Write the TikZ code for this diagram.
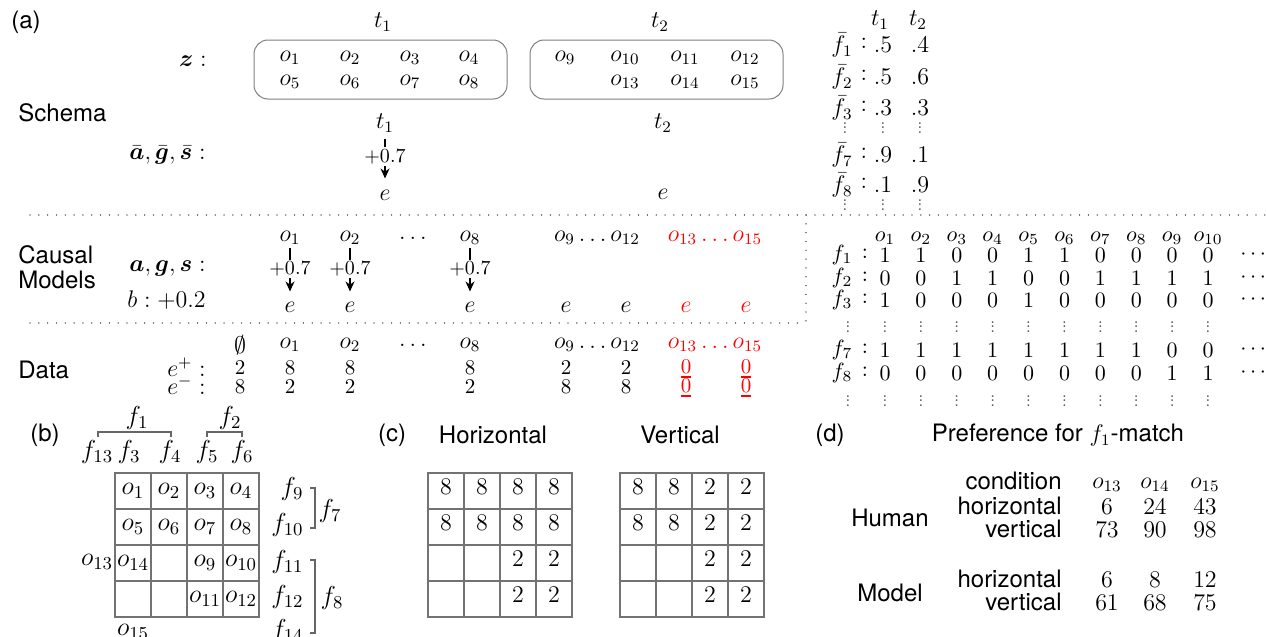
\RequirePackage{fix-cm}
\documentclass[tikz,border=0pt]{standalone}
\usepackage{amsmath}
\usepackage{bm}
\usepackage{fontspec}
\setsansfont{TeX Gyre Heros}
\usetikzlibrary{arrows.meta}
\newcommand{\redzero}{\makebox[0pt][l]{\rule[-2.2pt]{5.25pt}{0.85pt}}0}
\newcommand{\vdt}{\vbox{\baselineskip=2.3pt\lineskiplimit=0pt\hbox{.}\hbox{.}\hbox{.}}}
\begin{document}
\begin{tikzpicture}[x=0.5pt,y=-0.5pt,
  m/.style={inner sep=0pt, font=\fontsize{12}{14}\selectfont},
  md/.style={inner sep=0pt, font=\fontsize{10.5}{12}\selectfont},
  mb/.style={inner sep=0pt, font=\fontsize{13}{15}\selectfont},
  mx/.style={inner sep=0pt, font=\fontsize{11}{13}\selectfont},
  lab/.style={inner sep=0pt, font=\fontsize{12}{14}\selectfont\sffamily},
  wt/.style={inner sep=1pt, fill=white, font=\fontsize{10}{12}\selectfont},
  obox/.style={draw=black!50, line width=0.5pt, rounded corners=7pt, minimum width=126.5pt, minimum height=29.5pt, inner sep=0pt},
  dotline/.style={black!60, line width=0.7pt, dash pattern=on 0.01pt off 4.4pt, line cap=round},
  cellb/.style={draw=black!55, line width=0.6pt, minimum size=18pt, inner sep=0pt, font=\fontsize{13}{15}\selectfont},
  cellc/.style={draw=black!55, line width=0.6pt, minimum size=18pt, inner sep=0pt, font=\fontsize{12}{14}\selectfont},
  arr/.style={-{Stealth[length=5pt,width=4.5pt]}, line width=0.6pt},
  vd/.style={inner sep=0pt, font=\fontsize{8}{9}\selectfont, text=black!70},
  brk/.style={black!60, line width=0.6pt},
]
\useasboundingbox (0,0) rectangle (1266,637);

% ---------------- (a) Schema ----------------
\node[lab] (alab) at (26,22) {(a)};
\node[m] (t1top) at (383,22) {$t_1$};
\node[m] (t2top) at (660,22) {$t_2$};
\node[obox] (box1) at (380.5,69.5) {};
\node[obox] (box2) at (656.5,69.5) {};
\foreach \n/\x/\y in {1/290/58,2/350/58,3/410/58,4/469/58,5/290/82,6/350/82,7/410/82,8/469/82,
                      9/565/58,10/625/58,11/685/58,12/745/58,13/625/82,14/685/82,15/745/82}
  \node[m] (z\n) at (\x,\y) {$o_{\n}$};
\node[m, anchor=east] (zlab) at (207,61) {$\bm{z}:$};
\node[lab, anchor=west] (schema) at (18,113) {Schema};
\node[m] (t1b) at (385,123) {$t_1$};
\node[m] (e1a) at (385,195) {$e$};
\draw[arr, shorten <=3pt, shorten >=5.5pt] (t1b) -- node[wt, pos=0.42] {$+0.7$} (e1a);
\node[m] (t2b) at (663,123) {$t_2$};
\node[m] (e2a) at (663,194) {$e$};
\node[m, anchor=east] (agsbar) at (206,155) {$\bar{\bm a},\bar{\bm g},\bar{\bm s}:$};

% f-bar table
\node[m] (fbt1) at (880,20) {$t_1$};
\node[m] (fbt2) at (918,20) {$t_2$};
\foreach \i/\y/\p/\q in {1/45/.5/.4,2/77/.5/.6,3/108/.3/.3,7/155/.9/.1,8/185/.1/.9}{
  \node[m] (fb\i) at (842,\y) {$\bar f_{\i}$};
  \node[m] (fbc\i) at (864,\y-2) {$:$};
  \node[m] (fbp\i) at (883,\y) {$\p$};
  \node[m] (fbq\i) at (920,\y) {$\q$};
}
\foreach \y in {128,205}
  \foreach \x in {845,883,920}
    \node[vd] at (\x,\y) {\vdt};

% dotted separators
\draw[dotline] (30,215) -- (1266,215);
\draw[dotline] (30,323) -- (806,323);
\draw[dotline] (806,215) -- (806,323);

% ---------------- Causal Models ----------------
\node[lab, anchor=west, align=left, font=\fontsize{12}{12.5}\selectfont\sffamily] (cmlab) at (18,267) {Causal\\Models};
\node[m, anchor=east] (ags) at (206,268) {$\bm a,\bm g,\bm s:$};
\node[m, anchor=east] (blab) at (206,300) {$b:+0.2$};
\node[m] (c1) at (290,238) {$o_1$};
\node[m] (c2) at (350,238) {$o_2$};
\node[m] (cdots) at (413,238) {$\ldots$};
\node[m] (c8) at (470,238) {$o_8$};
\node[m] (c912) at (597,238) {$o_9\ldots o_{12}$};
\node[m, text=red] (c1315) at (715,238) {$o_{13}\ldots o_{15}$};
\foreach \n/\x in {1/290,2/350,8/470,9/566,12/626}
  \node[m] (ce\n) at (\x,307) {$e$};
\node[m, text=red] (ce13) at (686,307) {$e$};
\node[m, text=red] (ce15) at (746,307) {$e$};
\foreach \n in {1,2,8}
  \draw[arr, shorten <=1.5pt, shorten >=5pt] (c\n) -- node[wt, pos=0.42] {$+0.7$} (ce\n);

% ---------------- Data ----------------
\node[lab, anchor=west] (datalab) at (18,370) {Data};
\node[m] (d0) at (240,345) {$\emptyset$};
\node[m] (d1) at (290,345) {$o_1$};
\node[m] (d2) at (350,345) {$o_2$};
\node[m] (ddots) at (413,345) {$\ldots$};
\node[m] (d8) at (470,345) {$o_8$};
\node[m] (d912) at (597,345) {$o_9\ldots o_{12}$};
\node[m, text=red] (d1315) at (715,345) {$o_{13}\ldots o_{15}$};
\node[m, anchor=east] (eplus) at (206,367) {$e^+:$};
\node[m, anchor=east] (eminus) at (206,385) {$e^-:$};
\foreach \v [count=\k] in {2,8,8,8,2,2}{
  \pgfmathsetmacro{\xx}{{240,290,350,470,566,626}[\k-1]}
  \node[md] (ep\k) at (\xx,368) {\v};
}
\foreach \v [count=\k] in {8,2,2,2,8,8}{
  \pgfmathsetmacro{\xx}{{240,290,350,470,566,626}[\k-1]}
  \node[md] (em\k) at (\xx,387) {\v};
}
\node[md, text=red] (ep13) at (686,369) {\redzero};
\node[md, text=red] (ep15) at (746,369) {\redzero};
\node[md, text=red] (em13) at (686,388) {\redzero};
\node[md, text=red] (em15) at (746,388) {\redzero};

% feature matrix
\foreach \k in {1,...,10}
  \node[mx] (mh\k) at ({885+35.9*(\k-1)},238) {$o_{\k}$};
\foreach \r/\y/\vals in {1/255/{1,1,0,0,1,1,0,0,0,0},2/278/{0,0,1,1,0,0,1,1,1,1},3/300/{1,0,0,0,1,0,0,0,0,0},7/350/{1,1,1,1,1,1,1,1,0,0},8/373/{0,0,0,0,0,0,0,0,1,1}}{
  \node[mx] (mf\r) at (842,\y) {$f_{\r}$};
  \node[mx] (mc\r) at (865,\y-1) {$:$};
  \foreach \v [count=\k] in \vals
    \node[mx] (m\r-\k) at ({885+35.9*(\k-1)},\y) {$\v$};
  \node[mx] (mdots\r) at (1255,\y) {$\cdots$};
}
\foreach \y in {327,401}{
  \node[vd] at (848,\y) {\vdt};
  \foreach \k in {1,...,10}
    \node[vd] at ({885+35.9*(\k-1)},\y) {\vdt};
}

% ---------------- (b) ----------------
\node[lab] (blab2) at (45,435) {(b)};
\node[mb] (bf1) at (137,418) {$f_1$};
\node[mb] (bf2) at (230,418) {$f_2$};
\node[mb] (bf13) at (97,452) {$f_{13}$};
\node[mb] (bf3) at (129,452) {$f_3$};
\node[mb] (bf4) at (170,452) {$f_4$};
\node[mb] (bf5) at (207,452) {$f_5$};
\node[mb] (bf6) at (242,452) {$f_6$};
\draw[brk] (98,437) -- (98,432) -- (171,432) -- (171,437);
\draw[brk] (207,437) -- (207,432) -- (242,432) -- (242,437);
\foreach \r/\cy in {1/491,2/527,3/563,4/599}
  \foreach \c/\cx in {1/133,2/169,3/205,4/241}
    \node[cellb] (g\r\c) at (\cx,\cy) {};
\foreach \n/\r/\c in {1/1/1,2/1/2,3/1/3,4/1/4,5/2/1,6/2/2,7/2/3,8/2/4,14/3/1,9/3/3,10/3/4,11/4/3,12/4/4}
  \node[mb] (go\n) at (g\r\c) {$o_{\n}$};
\node[mb] (go13) at (97,562) {$o_{13}$};
\node[mb] (go15) at (133,632) {$o_{15}$};
\foreach \n/\y in {9/489,10/525,11/562,12/597,14/631}
  \node[mb, anchor=east] (bf\n) at (304,\y) {$f_{\n}$};
\draw[brk] (310,488) -- (315,488) -- (315,528) -- (310,528);
\draw[brk] (310,560) -- (315,560) -- (315,633) -- (310,633);
\node[mb] (bf7) at (330,511) {$f_7$};
\node[mb] (bf8) at (332,598) {$f_8$};

% ---------------- (c) ----------------
\node[lab] (clab) at (392,435) {(c)};
\node[lab] (horiz) at (493,435) {Horizontal};
\node[lab] (vert) at (680,435) {Vertical};
\foreach \r/\cy in {1/491,2/527,3/563,4/599}
  \foreach \c/\dx in {1/18,2/54,3/90,4/126}{
    \node[cellc] (h\r\c) at (428+\dx,\cy) {};
    \node[cellc] (v\r\c) at (620+\dx,\cy) {};
  }
\foreach \r/\c/\v in {1/1/8,1/2/8,1/3/8,1/4/8,2/1/8,2/2/8,2/3/8,2/4/8,3/3/2,3/4/2,4/3/2,4/4/2}
  \node[m] (hv\r\c) at ([yshift=2pt]h\r\c) {$\v$};
\foreach \r/\c/\v in {1/1/8,1/2/8,1/3/2,1/4/2,2/1/8,2/2/8,2/3/2,2/4/2,3/3/2,3/4/2,4/3/2,4/4/2}
  \node[m] (vv\r\c) at ([yshift=2pt]v\r\c) {$\v$};

% ---------------- (d) ----------------
\node[lab] (dlab) at (830,435) {(d)};
\node[lab] (pref) at (1058,435) {Preference for $f_1$-match};
\node[lab, anchor=east] (cond) at (1062,481) {condition};
\node[m] (do13) at (1107,485) {$o_{13}$};
\node[m] (do14) at (1155,485) {$o_{14}$};
\node[m] (do15) at (1205,485) {$o_{15}$};
\node[lab] (human) at (890,518) {Human};
\node[lab] (model) at (890,593) {Model};
\foreach \nm/\y/\a/\b/\c in {hh/507/6/24/43,hv/530/73/90/98,mh/580/6/8/12,mv/603/61/68/75}{
  \node[m] (\nm1) at (1107,\y) {$\a$};
  \node[m] (\nm2) at (1155,\y) {$\b$};
  \node[m] (\nm3) at (1205,\y) {$\c$};
}
\node[lab, anchor=east] (hhl) at (1062,506) {horizontal};
\node[lab, anchor=east] (hvl) at (1062,529) {vertical};
\node[lab, anchor=east] (mhl) at (1062,579) {horizontal};
\node[lab, anchor=east] (mvl) at (1062,602) {vertical};
\end{tikzpicture}
\end{document}
